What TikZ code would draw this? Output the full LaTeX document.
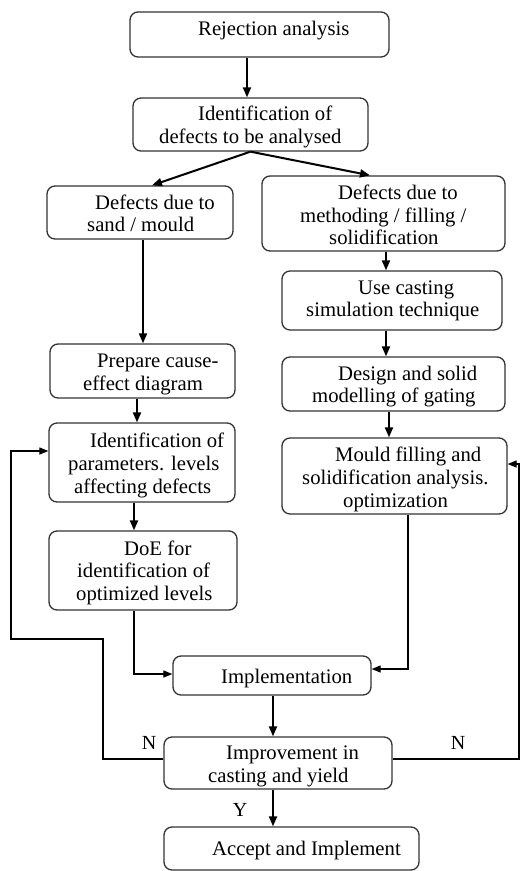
\documentclass[tikz,border=0pt]{standalone}
\usepackage{fontspec}
\setmainfont{Liberation Serif}
\usetikzlibrary{arrows.meta,calc}
\newcommand\myline[2]{\hbox{\hspace*{#1pt}#2}}
\definecolor{boxgray}{HTML}{333333}
\begin{document}
\begin{tikzpicture}[x=1pt,y=-1pt,
 box/.style={draw=boxgray, line width=1.3pt, rounded corners=8pt, inner sep=0pt},
 txt/.style={anchor=base west, inner sep=0pt, font=\fontsize{20.7}{22.7}\selectfont, text=black},
 arr/.style={line width=2pt, -{Triangle[length=10pt,width=8pt]}},
 thinarr/.style={line width=1.2pt, -{Triangle[length=9pt,width=7pt]}},
 thinln/.style={line width=1.2pt},
 lab/.style={inner sep=0pt, font=\fontsize{20}{22}\selectfont}]
\fill[white] (0,0) rectangle (520,871);
\useasboundingbox (0,0) rectangle (520,871);
% boxes
\node[box, minimum width=259pt, minimum height=45pt] (b1) at (259.5,34.5) {};
\node[box, minimum width=235pt, minimum height=53pt] (b2) at (250.5,124.5) {};
\node[box, minimum width=186pt, minimum height=53pt] (b3) at (140,212.5) {};
\node[box, minimum width=243pt, minimum height=75pt] (b4) at (383.5,213.5) {};
\node[box, minimum width=220pt, minimum height=59pt] (b5) at (392,300.5) {};
\node[box, minimum width=223pt, minimum height=54pt] (b6) at (393.5,384) {};
\node[box, minimum width=225pt, minimum height=76pt] (b7) at (394.5,476) {};
\node[box, minimum width=185pt, minimum height=54pt] (b8) at (142.5,371) {};
\node[box, minimum width=186pt, minimum height=79pt] (b9) at (142,462.5) {};
\node[box, minimum width=188pt, minimum height=79pt] (b10) at (143,570.5) {};
\node[box, minimum width=198pt, minimum height=39pt] (b11) at (272,675.5) {};
\node[box, minimum width=228pt, minimum height=52pt] (b12) at (278,763) {};
\node[box, minimum width=255pt, minimum height=43pt] (b13) at (291.5,848.5) {};
% texts
\node[txt] (t1) at (198,35) {Rejection analysis};
\node[txt] (t2) at (159,120.7) {\vtop{\myline{39}{Identification of}\myline{0}{defects to be analysed}}};
\node[txt] (t3) at (87,209) {\vtop{\myline{8}{Defects due to}\myline{0}{sand / mould}}};
\node[txt] (t4) at (300,199.3) {\vtop{\myline{38}{Defects due to}\myline{0}{methoding / filling /}\myline{29}{solidification}}};
\node[txt] (t5) at (306,294) {\vtop{\myline{52}{Use casting}\myline{0}{simulation technique}}};
\node[txt] (t6) at (312,380) {\vtop{\myline{26}{Design and solid}\myline{0}{modelling of gating}}};
\node[txt] (t7) at (302,461.7) {\vtop{\myline{33}{Mould filling and}\myline{0}{solidification analysis.}\myline{41}{optimization}}};
\node[txt] (t8) at (83,367.7) {\vtop{\myline{14}{Prepare cause-}\myline{0}{effect diagram}}};
\node[txt] (t9) at (68,447.7) {\vtop{\myline{22}{Identification of}\myline{0}{parameters. levels}\myline{6}{affecting defects}}};
\node[txt] (t10) at (76,555) {\vtop{\myline{48}{DoE for}\myline{1}{identification of}\myline{0}{optimized levels}}};
\node[txt] (t11) at (221,683.3) {Implementation};
\node[txt] (t12) at (208,759.3) {\vtop{\myline{18}{Improvement in}\myline{0}{casting and yield}}};
\node[txt] (t13) at (212,855) {Accept and Implement};
% connectors
\draw[arr] ([xshift=-12.5pt]b1.south) -- ([xshift=-12.5pt]b1.south |- b2.north);
\draw[arr] (b2.south) -- ([xshift=12pt]b3.north);
\draw[arr] (b2.south) -- ([xshift=-13.5pt]b4.north);
\draw[arr] ([xshift=2.5pt]b4.south) -- ([xshift=2.5pt]b4.south |- b5.north);
\draw[arr] ([xshift=-6pt]b5.south) -- ([xshift=-6pt]b5.south |- b6.north);
\draw[arr] ([xshift=-4.5pt]b6.south) -- ([xshift=-4.5pt]b6.south |- b7.north);
\draw[arr] ([xshift=3pt]b3.south) -- ([xshift=3pt]b3.south |- b8.north);
\draw[arr] ([xshift=-5.5pt]b8.south) -- ([xshift=-5.5pt]b8.south |- b9.north);
\draw[arr] ([xshift=-8pt]b9.south) -- ([xshift=-8pt]b9.south |- b10.north);
\draw[thinarr] ([xshift=-9pt]b10.south) |- ([yshift=1.5pt]b11.west);
\draw[thinarr] ([xshift=13.5pt]b7.south) |- ([yshift=6.5pt]b11.east);
\draw[arr] ([xshift=1pt]b11.south) -- ([xshift=1pt]b11.south |- b12.north);
\draw[arr] ([xshift=-5pt]b12.south) -- ([xshift=-5pt]b12.south |- b13.north);
\coordinate (lp1) at (103,639);
\coordinate (lp2) at (11,639);
\coordinate (rp) at (519,759);
\draw[thinarr] ([yshift=4pt]b12.west) -| (lp1) -- (lp2) |- ([yshift=11.5pt]b9.west);
\draw[thinarr] ([yshift=4pt]b12.east) -- (rp) |- ([yshift=12pt]b7.east);
% labels
\node[lab] (nl) at (149,743) {N};
\node[lab] (nr) at (458,743) {N};
\node[lab] (y) at (240,810) {Y};
\end{tikzpicture}
\end{document}
